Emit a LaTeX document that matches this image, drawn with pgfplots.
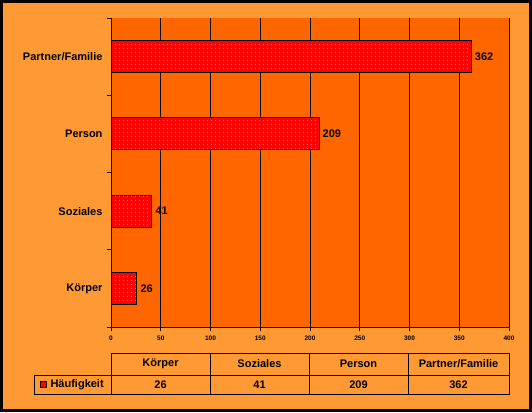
\documentclass[border=0pt]{standalone}
\usepackage{pgfplots}
\pgfplotsset{compat=1.18}
\usepackage{fontspec}
\setmainfont{Liberation Sans}
\usetikzlibrary{patterns.meta}
\definecolor{bgor}{HTML}{FF9933}
\definecolor{plotor}{HTML}{FF6600}
\definecolor{barred}{HTML}{FF0000}
\definecolor{dotyel}{HTML}{FFFF00}
\pgfplotstableread{
y val
0 26
1 41
2 209
3 362
}\datatab
\begin{document}
\begin{tikzpicture}[x=1pt,y=1pt]
\path[use as bounding box] (0,0) rectangle (532,412);
\fill[bgor] (0,0) rectangle (532,412);
\draw[line width=2.5pt] (1.5,1.5) rectangle (530.5,410.5);
\begin{axis}[
  at={(111pt,85pt)}, anchor=south west,
  scale only axis, width=398pt, height=309pt,
  xmin=0, xmax=400, ymin=-0.5, ymax=3.5,
  axis background/.style={fill=plotor},
  axis x line*=bottom, axis y line*=left,
  axis line style={black, line width=0.8pt},
  xtick={0,50,...,400},
  xmajorgrids, grid style={black, line width=0.8pt},
  tick style={black, line width=0.8pt},
  tick align=outside, major tick length=4pt,
  xticklabel style={font=\bfseries\fontsize{6.5}{7}\selectfont, yshift=-1pt},
  /pgf/number format/assume math mode=true,
  ytick={-0.5,0.5,1.5,2.5,3.5},
  yticklabels={},
  extra y ticks={0,1,2,3},
  extra y tick labels={Körper,Soziales,Person,Partner/Familie},
  extra y tick style={major tick length=0pt, yticklabel style={font=\bfseries\fontsize{11}{13}\selectfont, xshift=-5pt}},
  clip=false,
]
\addplot[xbar, bar width=32pt, fill=barred, draw=black, line width=0.8pt,
  postaction={pattern={Dots[distance=4pt, radius=0.45pt]}, pattern color=dotyel},
  nodes near coords,
  every node near coord/.append style={font=\bfseries\fontsize{11}{13}\selectfont, black, anchor=west, xshift=0pt},
] table[x=val, y=y] {\datatab};
\end{axis}
% data table
\begin{scope}[line width=0.8pt]
\draw (111,59) rectangle (509,18);
\draw (111,37) -- (509,37);
\draw (34,37) rectangle (111,18);
\foreach \xx in {210,309,408} {\draw (\xx,59) -- (\xx,18);}
\end{scope}
\begin{scope}[font=\bfseries\fontsize{11}{13}\selectfont]
\node at (160.5,48) {Körper};
\node at (259.5,48) {Soziales};
\node at (358.5,48) {Person};
\node at (458.5,48) {Partner/Familie};
\node at (160.5,27.5) {26};
\node at (259.5,27.5) {41};
\node at (358.5,27.5) {209};
\node at (458.5,27.5) {362};
\node[anchor=west] at (47,27.5) {Häufigkeit};
\end{scope}
\draw[fill=barred, line width=0.6pt] (40,24.5) rectangle (46,30.5);
\end{tikzpicture}
\end{document}
